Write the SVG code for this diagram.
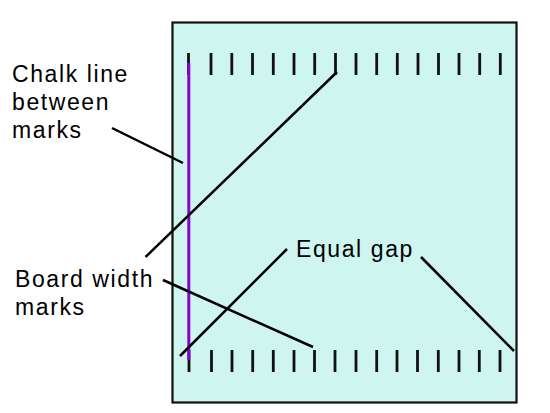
<svg xmlns="http://www.w3.org/2000/svg" width="550" height="413" viewBox="0 0 550 413">
<style>
.lbl{font-family:"Liberation Sans",Arial,sans-serif;font-size:23px;letter-spacing:1.6px;fill:#000}
.mk{stroke:#111;stroke-width:2.8;stroke-linecap:butt}
.ld{stroke:#000;stroke-width:2.5;fill:none}
</style>
<rect width="550" height="413" fill="#fff"/>
<g id="board">
<rect x="172.5" y="22.5" width="344" height="380" fill="#cff5f0" stroke="#111" stroke-width="2.2"/>
</g>
<g id="top-marks">
<path class="mk" d="M188.5 53v22M211 53v22M231.8 53v22M252.5 53v22M273.3 53v22M294 53v22M314.7 53v22M335.5 53v22M356 53v22M376.7 53v22M397.3 53v22M418 53v22M438.5 53v22M459 53v22M479.7 53v22M500.3 53v22"/>
</g>
<g id="bottom-marks">
<path class="mk" d="M189 350v22M211.5 350v22M232 350v22M252.7 350v22M273.3 350v22M294 350v22M314.5 350v22M335 350v22M356 350v22M376.7 350v22M397 350v22M417.5 350v22M438.3 350v22M459 350v22M479.3 350v22M500 350v22"/>
</g>
<g id="chalk-line">
<line x1="188.8" y1="63" x2="188.8" y2="360" stroke="#8a00cc" stroke-width="3"/>
</g>
<g id="label-chalk">
<text class="lbl" x="12" y="82">Chalk line</text>
<text class="lbl" x="12" y="110">between</text>
<text class="lbl" x="12" y="138">marks</text>
</g>
<g id="label-board">
<text class="lbl" x="15" y="287">Board width</text>
<text class="lbl" x="15" y="315">marks</text>
</g>
<g id="label-gap">
<text class="lbl" x="296" y="257">Equal gap</text>
</g>
<g id="connectors">
<line class="ld" x1="112" y1="128" x2="183" y2="163"/>
<line class="ld" x1="145.5" y1="257" x2="337" y2="72"/>
<line class="ld" x1="163" y1="280" x2="313" y2="347"/>
<line class="ld" x1="287" y1="249" x2="180" y2="356"/>
<line class="ld" x1="421" y1="257" x2="514" y2="351"/>
</g>
</svg>
